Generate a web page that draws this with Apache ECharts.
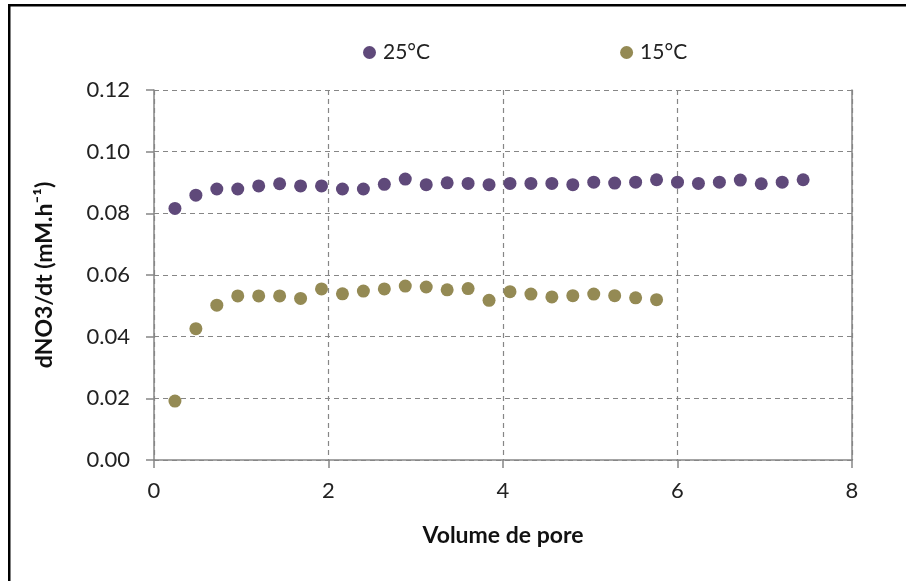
<!DOCTYPE html>
<html>
<head>
<meta charset="utf-8">
<script src="https://cdn.jsdelivr.net/npm/echarts@6/dist/echarts.min.js"></script>
<style>html,body{margin:0;padding:0;background:#fff;}#c{width:906px;height:581px;}</style>
</head>
<body>
<div id="c"></div>
<script>
const seriesNames = ['25°C', '15°C'];
const values25 = [0.0816,0.0859,0.0879,0.0879,0.0889,0.0896,0.0889,0.0889,0.0879,0.0879,0.0894,0.0911,0.0893,0.0899,0.0897,0.0893,0.0897,0.0897,0.0897,0.0893,0.0901,0.0898,0.0901,0.0909,0.0901,0.0897,0.0901,0.0908,0.0896,0.0901,0.0909];
const values15 = [0.0191,0.0426,0.0502,0.0532,0.0532,0.0532,0.0524,0.0555,0.0539,0.0548,0.0555,0.0564,0.0561,0.0552,0.0556,0.0518,0.0546,0.0538,0.0529,0.0533,0.0538,0.0533,0.0526,0.0520];
const xValues25 = [0.24,0.48,0.72,0.96,1.2,1.44,1.68,1.92,2.16,2.4,2.64,2.88,3.12,3.36,3.6,3.84,4.08,4.32,4.56,4.8,5.04,5.28,5.52,5.76,6,6.24,6.48,6.72,6.96,7.2,7.44];
const xValues15 = [0.24,0.48,0.72,0.96,1.2,1.44,1.68,1.92,2.16,2.4,2.64,2.88,3.12,3.36,3.6,3.84,4.08,4.32,4.56,4.8,5.04,5.28,5.52,5.76];
const xTicks = ['0','2','4','6','8'];
const yTicks = ['0.00','0.02','0.04','0.06','0.08','0.10','0.12'];
const colors = ['#5f497a', '#948a54'];

const FONT = 'Lato';
const chart = echarts.init(document.getElementById('c'), null, {renderer: 'canvas'});
const gridColor = '#868686';
chart.setOption({
  animation: false,
  backgroundColor: '#fff',
  textStyle: {fontFamily: FONT, color: '#222'},
  grid: {left: 154, right: 54, top: 90, bottom: 121},
  legend: {
    top: 37, left: 358,
    itemWidth: 13, itemHeight: 13, itemGap: 190,
    icon: 'circle',
    textStyle: {fontFamily: FONT, fontSize: 21, color: '#222', padding: [0,0,0,2]},
    data: seriesNames
  },
  xAxis: {
    type: 'value', min: 0, max: 8, interval: 2,
    name: 'Volume de pore', nameLocation: 'middle', nameGap: 64,
    nameTextStyle: {fontFamily: FONT, fontSize: 23, fontWeight: 'bold', color: '#111'},
    axisLine: {show: true, onZero: false, lineStyle: {color: gridColor, width: 1.5}},
    axisTick: {show: true, length: 8, lineStyle: {color: gridColor, width: 1.5}},
    axisLabel: {fontFamily: FONT, fontSize: 22, color: '#222', margin: 20,
      formatter: function (v) { return xTicks[Math.round(v / 2)]; }},
    splitLine: {show: true, lineStyle: {color: gridColor, type: [5, 4], width: 1.2}}
  },
  yAxis: [{
    type: 'value', min: 0, max: 0.12, interval: 0.02,
    name: 'dNO3/dt (mM.h⁻¹)', nameLocation: 'middle', nameGap: 98,
    nameTextStyle: {fontFamily: FONT, fontSize: 23, fontWeight: 'bold', color: '#111'},
    axisLine: {show: true, lineStyle: {color: gridColor, width: 1.5}},
    axisTick: {show: true, length: 8, lineStyle: {color: gridColor, width: 1.5}},
    axisLabel: {fontFamily: FONT, fontSize: 22, color: '#222', margin: 24,
      formatter: function (v) { return yTicks[Math.round(v / 0.02)]; }},
    splitLine: {show: true, lineStyle: {color: gridColor, type: [5, 4], width: 1.2}}
  }, {
    type: 'value', min: 0, max: 0.12, interval: 0.02, position: 'right',
    axisLine: {show: true, lineStyle: {color: gridColor, width: 1.5}},
    axisTick: {show: false}, axisLabel: {show: false}, splitLine: {show: false}
  }],
  series: [
    {name: seriesNames[0], type: 'scatter', symbolSize: 13, itemStyle: {color: colors[0], opacity: 1},
     data: xValues25.map((x, i) => [x, values25[i]])},
    {name: seriesNames[1], type: 'scatter', symbolSize: 13, itemStyle: {color: colors[1], opacity: 1},
     data: xValues15.map((x, i) => [x, values15[i]])}
  ],
  graphic: [
    {type: 'rect', shape: {x: 8, y: 4, width: 898, height: 2.5}, style: {fill: '#000'}, silent: true},
    {type: 'rect', shape: {x: 8, y: 4, width: 2.5, height: 577}, style: {fill: '#000'}, silent: true}
  ]
});
</script>
</body>
</html>
